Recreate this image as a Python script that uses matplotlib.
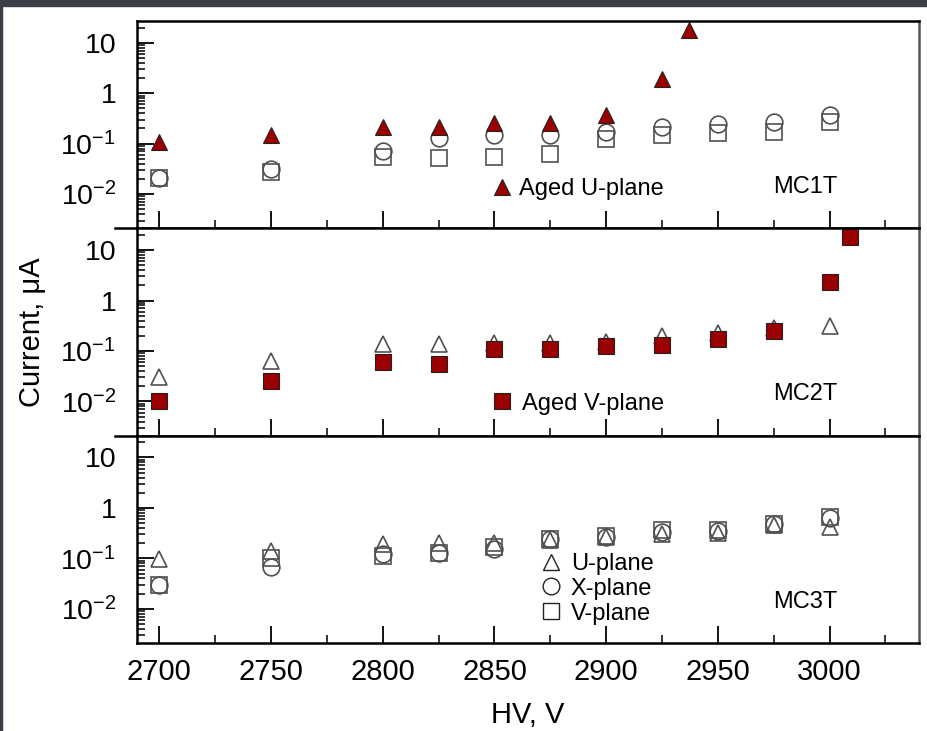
import matplotlib
matplotlib.use('Agg')
import matplotlib.pyplot as plt
from matplotlib.ticker import FixedLocator, FixedFormatter, LogLocator, NullFormatter, MultipleLocator
from matplotlib.lines import Line2D
from matplotlib.patches import Rectangle

plt.rcParams['font.family'] = ['Liberation Sans', 'DejaVu Sans']
plt.rcParams['mathtext.fontset'] = 'custom'
plt.rcParams['mathtext.rm'] = 'Liberation Sans'
plt.rcParams['mathtext.default'] = 'rm'

hv = [2700, 2750, 2800, 2825, 2850, 2875, 2900, 2925, 2950, 2975, 3000]

# MC1T
mc1_aged_u_hv = [2700, 2750, 2800, 2825, 2850, 2875, 2900, 2925, 2937]
mc1_aged_u = [0.11, 0.15, 0.21, 0.21, 0.26, 0.26, 0.37, 1.9, 18]
mc1_x = [0.021, 0.031, 0.07, 0.13, 0.15, 0.15, 0.17, 0.21, 0.24, 0.27, 0.37]
mc1_v = [0.021, 0.027, 0.055, 0.053, 0.055, 0.063, 0.125, 0.15, 0.16, 0.17, 0.27]

# MC2T
mc2_u = [0.030, 0.063, 0.14, 0.14, 0.145, 0.145, 0.15, 0.2, 0.23, 0.29, 0.32]
mc2_aged_v_hv = [2700, 2750, 2800, 2825, 2850, 2875, 2900, 2925, 2950, 2975, 3000, 3009]
mc2_aged_v = [0.010, 0.025, 0.06, 0.055, 0.11, 0.11, 0.125, 0.13, 0.17, 0.25, 2.3, 18]

# MC3T
mc3_u = [0.095, 0.14, 0.19, 0.2, 0.2, 0.23, 0.26, 0.31, 0.32, 0.46, 0.42]
mc3_x = [0.029, 0.066, 0.12, 0.13, 0.15, 0.24, 0.26, 0.33, 0.35, 0.47, 0.63]
mc3_v = [0.029, 0.10, 0.11, 0.13, 0.17, 0.24, 0.28, 0.36, 0.36, 0.48, 0.66]

ytick_vals = [0.01, 0.1, 1, 10]
ytick_labels = ['$10^{-2}$', '$10^{-1}$', '1', '10']
panel_names = ['MC1T', 'MC2T', 'MC3T']

red = '#9b0000'
grey = '#505050'
W, H = 927, 731

fig = plt.figure(figsize=(W / 100, H / 100), dpi=100)
fig.patches.append(Rectangle((0, 1 - 6 / H), 1, 6 / H, transform=fig.transFigure,
                             color='#3b3e46', zorder=-1))
fig.patches.append(Rectangle((0, 0), 2 / W, 1, transform=fig.transFigure,
                             color='#3b3e46', zorder=-1))

left, right = 137 / W, 919 / W
top, bottom = 1 - 21 / H, 1 - 643 / H
ph = (top - bottom) / 3
axes = []
for k in range(3):
    ax = fig.add_axes([left, top - (k + 1) * ph, right - left, ph])
    ax.set_yscale('log')
    ax.set_ylim(0.0021, 27)
    ax.set_xlim(2690, 3040)
    ax.yaxis.set_major_locator(FixedLocator(ytick_vals))
    ax.yaxis.set_major_formatter(FixedFormatter(ytick_labels))
    ax.yaxis.set_minor_locator(LogLocator(base=10, subs=range(2, 10), numticks=20))
    ax.yaxis.set_minor_formatter(NullFormatter())
    ax.xaxis.set_major_locator(MultipleLocator(50))
    ax.xaxis.set_minor_locator(MultipleLocator(25))
    ax.tick_params(which='both', direction='in', top=False, right=False, color='k')
    ax.tick_params(which='major', length=12, width=1.3)
    ax.tick_params(which='minor', length=6, width=1.1)
    ax.tick_params(axis='y', which='major', pad=15, labelsize=20.5)
    ax.tick_params(axis='x', which='major', pad=11, labelsize=21)
    for s in ax.spines.values():
        s.set_linewidth(1.8)
    ax.spines['right'].set_color('#555555')
    if k < 2:
        ax.tick_params(axis='x', labelbottom=False)
        ax.plot([-0.028, 0], [0, 0], transform=ax.transAxes, clip_on=False,
                color='k', lw=1.8)
    ax.text(0.855, 0.2, panel_names[k], transform=ax.transAxes, fontsize=17,
            ha='center', va='center')
    axes.append(ax)

open_kw = dict(linestyle='none', markersize=12, markerfacecolor='none',
               markeredgecolor=grey, markeredgewidth=1.2)
red_kw = dict(linestyle='none', markersize=12, markerfacecolor=red,
              markeredgecolor='#222222', markeredgewidth=0.8)

ax1, ax2, ax3 = axes
ax1.plot(hv, mc1_x, marker='o', **open_kw)
ax1.plot(hv, mc1_v, marker='s', **open_kw)
ax1.plot(mc1_aged_u_hv, mc1_aged_u, marker='^', label='Aged U-plane', **red_kw)
ax1.legend(loc='center left', bbox_to_anchor=(0.455, 0.19), frameon=False,
           fontsize=17, handlelength=0.8, handletextpad=0.3, borderpad=0,
           borderaxespad=0)

ax2.plot(hv, mc2_u, marker='^', **open_kw)
ax2.plot(mc2_aged_v_hv, mc2_aged_v, marker='s', label='Aged V-plane', **red_kw)
ax2.legend(loc='center left', bbox_to_anchor=(0.455, 0.154), frameon=False,
           fontsize=17, handlelength=0.8, handletextpad=0.45, borderpad=0,
           borderaxespad=0)

ax3.plot(hv, mc3_u, marker='^', **open_kw)
ax3.plot(hv, mc3_x, marker='o', **open_kw)
ax3.plot(hv, mc3_v, marker='s', **open_kw)
leg_kw = dict(linestyle='none', markersize=12, markerfacecolor='none',
              markeredgecolor='#222222', markeredgewidth=1.0)
handles = [Line2D([], [], marker='^', **leg_kw), Line2D([], [], marker='o', **leg_kw),
           Line2D([], [], marker='s', **leg_kw)]
ax3.legend(handles, ['U-plane', 'X-plane', 'V-plane'], loc='center left',
           bbox_to_anchor=(0.517, 0.262), frameon=False, fontsize=17,
           handlelength=0.8, handletextpad=0.45, labelspacing=0.12, borderpad=0,
           borderaxespad=0)

fig.text(32 / W, 1 - 332 / H, 'Current, μA', rotation=90, ha='center', va='center',
         fontsize=21)
fig.text(528 / W, 1 - 715 / H, 'HV, V', ha='center', va='center', fontsize=21)

fig.savefig('out.png', dpi=100)
